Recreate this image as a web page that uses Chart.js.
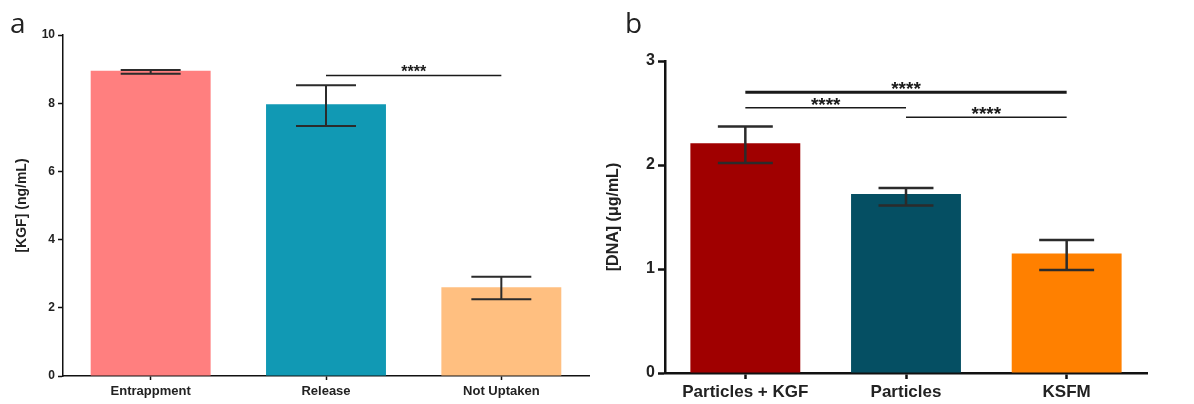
<!DOCTYPE html>
<html>
<head>
<meta charset="utf-8">
<script src="https://cdn.jsdelivr.net/npm/chart.js@4.4.1/dist/chart.umd.min.js"></script>
<style>
  body { margin: 0; background: #fff; }
  #wrap { position: relative; width: 1194px; height: 404px; }
  canvas { position: absolute; top: 0; }
  .lbl { position: absolute; font-family: "Open Sans", sans-serif; font-size: 28px; line-height: normal; color: #222; }
</style>
</head>
<body>
<div id="wrap">
  <canvas id="chartA" width="597" height="404" style="left:0"></canvas>
  <canvas id="chartB" width="597" height="404" style="left:597px"></canvas>
  <div class="lbl" style="left:10px;top:3px">a</div>
  <div class="lbl" style="left:625px;top:3px">b</div>
</div>
<script>
// data - panel a
const labelsA = ["Entrappment", "Release", "Not Uptaken"];
const meansA = [8.95, 7.97, 2.6];
const lowA = [8.86, 7.33, 2.25];
const highA = [8.97, 8.53, 2.91];
const colorsA = ["#FF7F7F", "#1199B4", "#FFBF80"];
const ticksA = [0, 2, 4, 6, 8, 10];
const sigFromA = [1];
const sigToA = [2];
const sigYA = [8.81];
const sigWidthA = [1.5];

// data - panel b
const labelsB = ["Particles + KGF", "Particles", "KSFM"];
const meansB = [2.21, 1.72, 1.15];
const lowB = [2.02, 1.61, 0.99];
const highB = [2.37, 1.78, 1.28];
const colorsB = ["#A00000", "#054F63", "#FF8000"];
const ticksB = [0, 1, 2, 3];
const sigFromB = [0, 0, 1];
const sigToB = [2, 1, 2];
const sigYB = [2.7, 2.55, 2.46];
const sigWidthB = [3, 1.5, 1.5];

const FONT = "'Liberation Sans', Arial, sans-serif";

// error bars drawn from the y scale
function errorPlugin(low, high, lineWidth) {
  return {
    id: "errorBars",
    afterDatasetsDraw(chart) {
      const ctx = chart.ctx;
      const y = chart.scales.y;
      const bars = chart.getDatasetMeta(0).data;
      ctx.save();
      ctx.strokeStyle = "#2b2b2b";
      ctx.lineWidth = lineWidth;
      bars.forEach((bar, i) => {
        const half = bar.width / 4;
        const yl = y.getPixelForValue(low[i]);
        const yh = y.getPixelForValue(high[i]);
        ctx.beginPath();
        ctx.moveTo(bar.x, yl);
        ctx.lineTo(bar.x, yh);
        ctx.moveTo(bar.x - half, yl);
        ctx.lineTo(bar.x + half, yl);
        ctx.moveTo(bar.x - half, yh);
        ctx.lineTo(bar.x + half, yh);
        ctx.stroke();
      });
      ctx.restore();
    },
  };
}

// significance brackets, stars sit just above each line
function sigPlugin(from, to, yv, widths, fontSize, drop) {
  return {
    id: "sigBars",
    afterDatasetsDraw(chart) {
      const ctx = chart.ctx;
      const y = chart.scales.y;
      const bars = chart.getDatasetMeta(0).data;
      ctx.save();
      ctx.strokeStyle = "#1a1a1a";
      ctx.fillStyle = "#1a1a1a";
      ctx.font = "bold " + fontSize + "px " + FONT;
      ctx.textAlign = "center";
      ctx.textBaseline = "alphabetic";
      from.forEach((f, i) => {
        const x1 = bars[f].x;
        const x2 = bars[to[i]].x;
        const py = y.getPixelForValue(yv[i]);
        ctx.lineWidth = widths[i];
        ctx.beginPath();
        ctx.moveTo(x1, py);
        ctx.lineTo(x2, py);
        ctx.stroke();
        ctx.fillText("****", (x1 + x2) / 2, py + drop);
      });
      ctx.restore();
    },
  };
}

function axisStyle(size, width, tickLen) {
  return {
    grid: {
      display: true,
      drawOnChartArea: false,
      offset: false,
      tickLength: tickLen,
      color: "#111",
      tickWidth: width,
    },
    border: { display: true, color: "#111", width: width },
    ticks: { color: "#222", font: { family: FONT, size: size, weight: "bold" } },
  };
}

// config - panel a
const xA = axisStyle(13, 1.5, 4);
xA.ticks.padding = 4;
xA.afterFit = (s) => { s.height = 28; };
const yA = axisStyle(12, 1.5, 5);
yA.min = 0;
yA.max = 10;
yA.afterBuildTicks = (s) => { s.ticks = ticksA.map((v) => ({ value: v })); };
yA.ticks.padding = 3;
yA.title = {
  display: true,
  text: "[KGF] (ng/mL)",
  color: "#222",
  font: { family: FONT, size: 14, weight: "bold" },
  padding: { top: 14, bottom: 0 },
};
yA.afterFit = (s) => { s.width = 63; };

const configA = {
  type: "bar",
  data: {
    labels: labelsA,
    datasets: [{
      data: meansA,
      backgroundColor: colorsA,
      borderWidth: 0,
      barPercentage: 0.684,
      categoryPercentage: 1,
    }],
  },
  options: {
    responsive: false,
    animation: false,
    devicePixelRatio: 1,
    layout: { padding: { left: 0, right: 8, top: 35, bottom: 0 } },
    plugins: { legend: { display: false }, tooltip: { enabled: false } },
    scales: { x: xA, y: yA },
  },
  plugins: [errorPlugin(lowA, highA, 2), sigPlugin(sigFromA, sigToA, sigYA, sigWidthA, 16, 1)],
};

// config - panel b
const xB = axisStyle(17, 2.5, 6);
xB.ticks.padding = 3;
xB.afterFit = (s) => { s.height = 31; };
const yB = axisStyle(16, 2.5, 7);
yB.min = 0;
yB.max = 3;
yB.afterBuildTicks = (s) => { s.ticks = ticksB.map((v) => ({ value: v })); };
yB.ticks.padding = 3;
yB.title = {
  display: true,
  text: "[DNA] (\u03bcg/mL)",
  color: "#222",
  font: { family: FONT, size: 16, weight: "bold" },
  padding: { top: 7, bottom: 0 },
};
yB.afterFit = (s) => { s.width = 68; };

const configB = {
  type: "bar",
  data: {
    labels: labelsB,
    datasets: [{
      data: meansB,
      backgroundColor: colorsB,
      borderWidth: 0,
      barPercentage: 0.684,
      categoryPercentage: 1,
    }],
  },
  options: {
    responsive: false,
    animation: false,
    devicePixelRatio: 1,
    layout: { padding: { left: 0, right: 47, top: 61, bottom: 0 } },
    plugins: { legend: { display: false }, tooltip: { enabled: false } },
    scales: { x: xB, y: yB },
  },
  plugins: [errorPlugin(lowB, highB, 2.5), sigPlugin(sigFromB, sigToB, sigYB, sigWidthB, 19, 3)],
};

// render
const chartA = new Chart(document.getElementById("chartA"), configA);
const chartB = new Chart(document.getElementById("chartB"), configB);
</script>
</body>
</html>
